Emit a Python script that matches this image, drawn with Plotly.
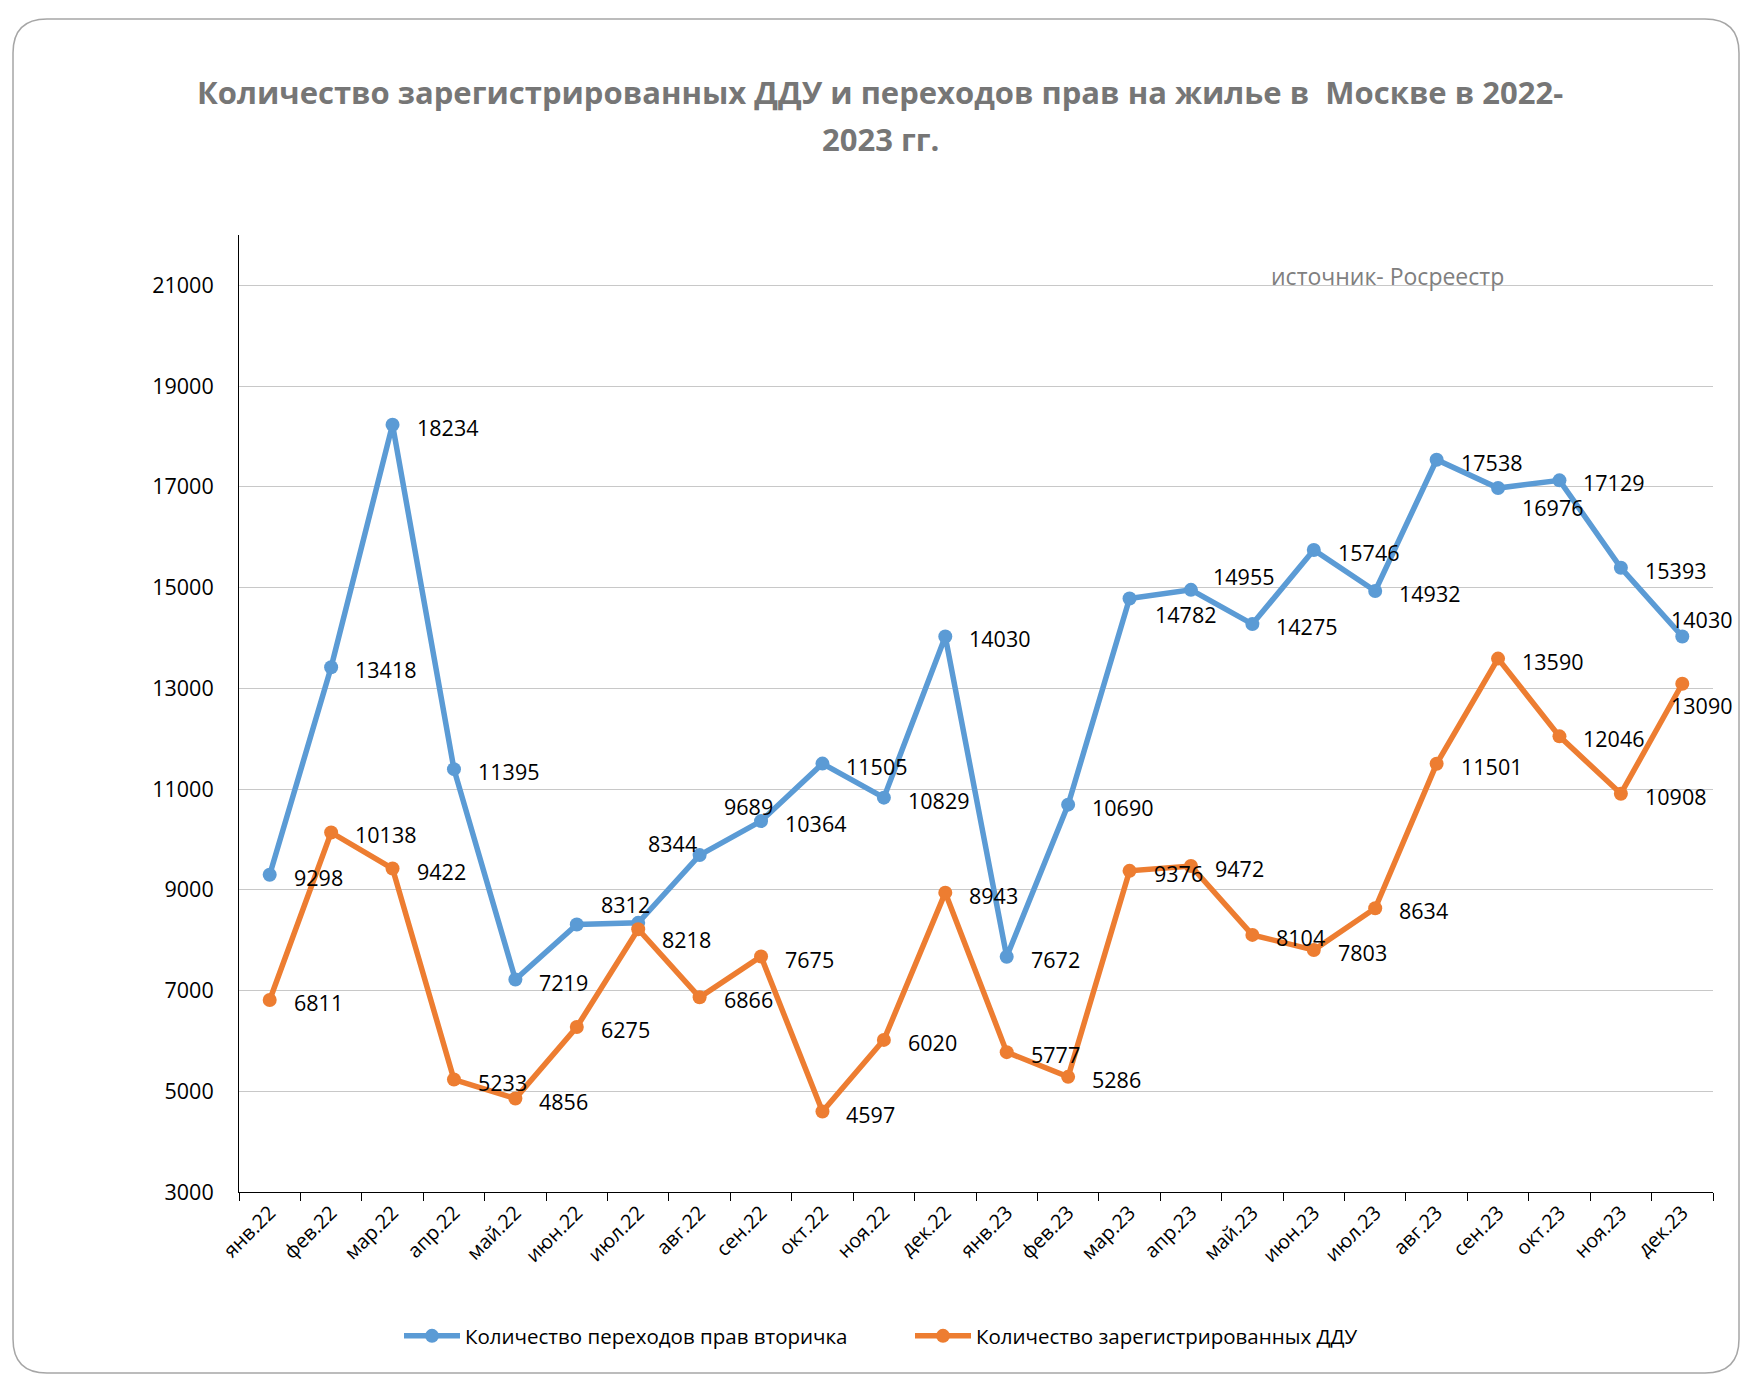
import plotly.graph_objects as go

months = ['янв.22', 'фев.22', 'мар.22', 'апр.22', 'май.22', 'июн.22', 'июл.22', 'авг.22',
          'сен.22', 'окт.22', 'ноя.22', 'дек.22', 'янв.23', 'фев.23', 'мар.23', 'апр.23',
          'май.23', 'июн.23', 'июл.23', 'авг.23', 'сен.23', 'окт.23', 'ноя.23', 'дек.23']
secondary = [9298, 13418, 18234, 11395, 7219, 8312, 8344, 9689, 10364, 11505, 10829, 14030,
             7672, 10690, 14782, 14955, 14275, 15746, 14932, 17538, 16976, 17129, 15393, 14030]
ddu = [6811, 10138, 9422, 5233, 4856, 6275, 8218, 6866, 7675, 4597, 6020, 8943,
       5777, 5286, 9376, 9472, 8104, 7803, 8634, 11501, 13590, 12046, 10908, 13090]

W, H = 1756, 1392
L, R, T, B = 239, 43, 235, 200
BLUE = '#5B9BD5'
ORANGE = '#ED7D31'
FONT = 'Open Sans'


def px2x(px):
    return (px - L) / (W - L - R)


def py2y(py):
    return (H - B - py) / (H - T - B)


# label offsets in pixels (dx right, dy down), default for most points
default_off = (22, 2.5)
blue_off = {5: (22, -20), 6: (8, -79), 7: (22, -49), 14: (23, 16), 15: (20, -13), 20: (22, 19), 23: (-13, -17)}
ddu_off = {6: (22, 10), 23: (-13, 22)}

fig = go.Figure()
fig.add_trace(go.Scatter(x=months, y=secondary, mode='lines+markers', name='Количество переходов прав вторичка',
                         line=dict(color=BLUE, width=5.5), marker=dict(size=14, color=BLUE)))
fig.add_trace(go.Scatter(x=months, y=ddu, mode='lines+markers', name='Количество зарегистрированных ДДУ',
                         line=dict(color=ORANGE, width=5.5), marker=dict(size=14, color=ORANGE)))

for vals, offs in [(secondary, blue_off), (ddu, ddu_off)]:
    for i, v in enumerate(vals):
        dx, dy = offs.get(i, default_off)
        fig.add_annotation(x=months[i], y=v, text=str(v), showarrow=False, xanchor='left', yanchor='middle',
                           xshift=dx, yshift=-dy, font=dict(family=FONT, size=21.5, color='black'))

# title in two lines
fig.add_annotation(xref='paper', yref='paper', x=px2x(880), y=py2y(92), showarrow=False,
                   xanchor='center', yanchor='middle',
                   text='<b>Количество зарегистрированных ДДУ и переходов прав на жилье в  Москве в 2022-</b>',
                   font=dict(family=FONT, size=31, color='#767676'))
fig.add_annotation(xref='paper', yref='paper', x=px2x(880), y=py2y(139), showarrow=False,
                   xanchor='center', yanchor='middle',
                   text='<b>2023 гг.</b>', font=dict(family=FONT, size=31, color='#767676'))
fig.add_annotation(xref='paper', yref='paper', x=px2x(1387), y=py2y(276), showarrow=False,
                   xanchor='center', yanchor='middle',
                   text='источник- Росреестр', font=dict(family=FONT, size=23, color='#7F7F7F'))

# rounded outer frame
x0, x1, y0, y1, r = 13, 1739, 19, 1373, 34
pts = [('M', x0 + r, y0), ('L', x1 - r, y0), ('Q', x1, y0, x1, y0 + r), ('L', x1, y1 - r),
       ('Q', x1, y1, x1 - r, y1), ('L', x0 + r, y1), ('Q', x0, y1, x0, y1 - r), ('L', x0, y0 + r),
       ('Q', x0, y0, x0 + r, y0)]
path = ''
for p in pts:
    coords = p[1:]
    path += p[0] + ' ' + ' '.join(f'{px2x(coords[k]):.5f},{py2y(coords[k + 1]):.5f}' for k in range(0, len(coords), 2)) + ' '
fig.add_shape(type='path', xref='paper', yref='paper', path=path + 'Z', line=dict(color='#A6A6A6', width=1.5))

fig.update_layout(
    width=W, height=H, margin=dict(l=L, r=R, t=T, b=B),
    paper_bgcolor='white', plot_bgcolor='white',
    font=dict(family=FONT, color='black'),
    showlegend=True,
    legend=dict(orientation='h', xanchor='center', yanchor='middle', x=px2x(910), y=py2y(1336),
                font=dict(size=20.5), entrywidth=440, itemwidth=56),
)
fig.update_xaxes(type='category', range=[-0.5, 23.5], tickson='boundaries', ticks='outside', ticklen=8,
                 tickcolor='black', showline=True, linecolor='black', linewidth=1, showgrid=False,
                 tickangle=-45, tickfont=dict(size=20))
fig.update_yaxes(range=[3000, 22000], tick0=3000, dtick=2000, tickformat='d', showgrid=True,
                 gridcolor='#C8C8C8', gridwidth=1.3, showline=True, linecolor='black', linewidth=1,
                 ticks='', zeroline=False, tickfont=dict(size=21.5), ticklabelstandoff=20)

fig.write_html('out.html', config={'displayModeBar': False},
               post_script='document.body.style.margin = "0";')
